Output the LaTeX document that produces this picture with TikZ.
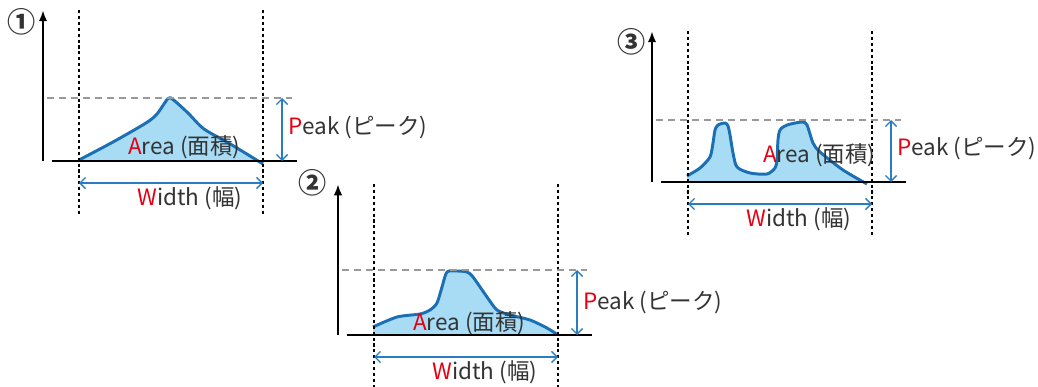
\documentclass[tikz,border=0pt]{standalone}
\usepackage{fontspec}
\setmainfont{Noto Sans CJK JP}
\usetikzlibrary{arrows.meta}
\definecolor{peakfill}{HTML}{A8DCF5}
\definecolor{peakline}{HTML}{1B6FB5}
\definecolor{dimblue}{HTML}{2A7DC1}
\definecolor{initred}{HTML}{E60012}
\definecolor{guidegray}{HTML}{999999}
\definecolor{labelgray}{HTML}{333333}
\tikzset{
  axis/.style={line width=1.8pt,-{Latex[length=8pt,width=6pt]}},
  base/.style={line width=1.8pt},
  wall/.style={line width=1.5pt,dash pattern=on 2.2pt off 2pt},
  peakguide/.style={guidegray,line width=1.3pt,dash pattern=on 5pt off 3.5pt},
  dim/.style={dimblue,line width=0.9pt,{Straight Barb[length=4pt,width=8pt]}-{Straight Barb[length=4pt,width=8pt]}},
  curve/.style={peakline,line width=2.1pt,line join=round},
  lbl/.style={font=\fontsize{16}{18}\selectfont,text=labelgray,inner sep=0pt},
  numlbl/.style={font=\fontsize{20}{24}\selectfont\bfseries,text=labelgray,inner sep=0pt},
}
\newcommand{\ini}[1]{\textcolor{initred}{#1}}
% fill down to the base line, stroke only the profile
\newcommand{\peakcurve}[4]{%
  \fill[peakfill] plot[smooth,tension=0.45] coordinates {#4} -- (#3,#1) -- (#2,#1) -- cycle;
  \draw[curve] plot[smooth,tension=0.45] coordinates {#4};}

\begin{document}
\begin{tikzpicture}[x=0.025cm,y=-0.025cm]
\useasboundingbox (0,0) rectangle (1038,387);
% chromatogram peaks
\peakcurve{161}{79}{263}{(79,160) (113,142) (146,123) (157,114) (168,98.5) (173,99.5) (188,113) (204,129) (232,145) (263,164)}
\peakcurve{335}{373}{558}{(373,327) (397,317) (420,314) (430,310) (437,303) (442,287) (447,272) (457,271) (467,272) (473,277) (487,297) (497,310) (510,315) (530,320) (547,328) (558,335)}
\peakcurve{182}{687}{867}{(687,176) (700,168) (710,157) (713,143) (715,130) (718,125) (725,123) (728,126) (730,135) (733,153) (737,167) (750,173) (767,174) (775,168) (777,160) (778,140) (780,130) (787,125) (802,122) (807,125) (813,143) (820,152) (843,170) (867,184)}
% frames of the three panels
\foreach \ox/\oy/\py/\num/\nx/\ny/\axx/\axy [count=\i] in
  {43/161/-63/①/-21/-139/85/-14, 338/335/-65/②/-25/-152/75/-12, 652/182/-62/③/-20/-140/111/-27}{
  \begin{scope}[shift={(\ox,\oy)}]
    \coordinate (o\i) at (0,0);
    \coordinate (top\i) at (0,-151);
    \draw[axis] (o\i) -- (top\i);
    \node[numlbl] (num\i) at (\nx,\ny) {\num};
    \coordinate (bl\i) at (9,0);
    \coordinate (br\i) at (254,0);
    \draw[base] (bl\i) -- (br\i);
    \coordinate (wlt\i) at (36,-151);
    \coordinate (wlb\i) at (36,53);
    \coordinate (wrt\i) at (220,-151);
    \coordinate (wrb\i) at (220,53);
    \draw[wall] (wlt\i) -- (wlb\i);
    \draw[wall] (wrt\i) -- (wrb\i);
    \coordinate (gl\i) at (4,\py);
    \coordinate (gr\i) at (249,\py);
    \draw[peakguide] (gl\i) -- (gr\i);
    \coordinate (pt\i) at (239,\py);
    \coordinate (pb\i) at (239,0);
    \draw[dim] (pt\i) -- (pb\i);
    \coordinate (wl\i) at (36,22);
    \coordinate (wr\i) at (220,22);
    \draw[dim] (wl\i) -- (wr\i);
    \node[lbl,anchor=west] (peak\i) at (245,-33) {\ini{P}eak (ピーク)};
    \node[lbl] (width\i) at (147,37) {\ini{W}idth (幅)};
    \node[lbl,anchor=west] (area\i) at (\axx,\axy) {\ini{A}rea (面積)};
  \end{scope}
}
\end{tikzpicture}
\end{document}
